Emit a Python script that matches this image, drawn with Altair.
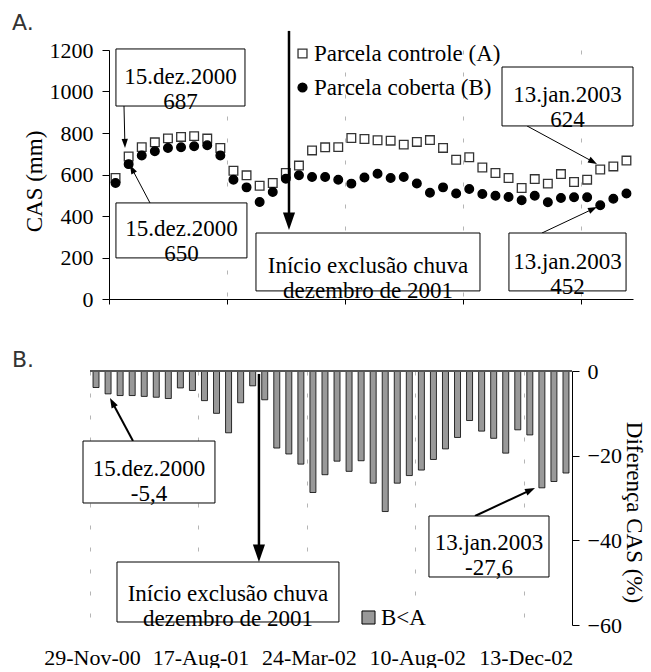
import math
import altair as alt
import pandas as pd

# ---------------- data ----------------
idx = list(range(40))
controle = [583, 687, 732, 755, 774, 781, 785, 773, 728, 618, 596, 546, 559, 607, 643,
            716, 731, 732, 776, 771, 765, 763, 744, 757, 766, 728, 671, 683, 634, 607,
            583, 535, 578, 556, 602, 564, 575, 624, 639, 667]
coberta = [559, 650, 692, 712, 728, 731, 736, 741, 692, 575, 538, 467, 516, 580, 596,
           588, 588, 575, 556, 586, 604, 583, 588, 557, 512, 538, 508, 530, 506, 498,
           492, 476, 498, 466, 487, 490, 490, 452, 483, 508]
diferenca = [-3.9, -5.4, -5.8, -5.8, -6.0, -6.2, -6.5, -4.0, -4.6, -7.0, -10.0, -14.6,
             -7.5, -3.5, -6.8, -18.2, -19.6, -22.0, -28.7, -24.5, -21.3, -23.7, -21.2,
             -26.5, -33.2, -26.5, -24.7, -23.4, -20.9, -18.4, -15.7, -11.7, -14.2, -15.9,
             -19.4, -13.9, -15.1, -27.6, -26.1, -24.1]
x_labels = ["29-Nov-00", "17-Aug-01", "24-Mar-02", "10-Aug-02", "13-Dec-02"]
x_bounds = [-0.5, 8.5, 17.5, 26.5, 35.5]
serie_a = "Parcela controle (A)"
serie_b = "Parcela coberta (B)"
serie_bar = "B<A"

SERIF = "Liberation Serif, Times New Roman, serif"
FS = 23

# ---------------- geometry ----------------
W_TOP, H_TOP = 524, 249
W_BOT, H_BOT = 482, 254
SHIFT = 19  # bottom plot starts 19 px left of the top one
sx_top, sy_top = W_TOP / 40, H_TOP / 1200
sx_bot, sy_bot = W_BOT / 40, H_BOT / 60

HEAD = "M0,-1L0.7,1L-0.7,1Z"


def heads(arrows, sx, sy, size):
    r = math.sqrt(size) / 2
    out = []
    for (x1, y1, x2, y2) in arrows:
        dxp = (x2 - x1) * sx
        dyp = -(y2 - y1) * sy
        L = math.hypot(dxp, dyp)
        ux, uy = dxp / L, dyp / L
        hx = x2 - ux * r / sx
        hy = y2 + uy * r / sy
        ang = math.degrees(math.atan2(ux, -uy)) % 360
        out.append({"x": hx, "y": hy, "ang": ang})
    return pd.DataFrame(out)


def arrows_df(arrows, sx, sy, size):
    r = math.sqrt(size) / 2
    rows = []
    for (x1, y1, x2, y2) in arrows:
        dxp = (x2 - x1) * sx
        dyp = -(y2 - y1) * sy
        L = math.hypot(dxp, dyp)
        ux, uy = dxp / L, dyp / L
        rows.append({"x1": x1, "y1": y1, "x2": x2 - ux * r / sx, "y2": y2 + uy * r / sy})
    return pd.DataFrame(rows)


# ---------------- top panel ----------------
xs_top = alt.Scale(domain=[-0.5, 39.5], nice=False, zero=False, padding=0)
ys_top = alt.Scale(domain=[0, 1200], nice=False, padding=0)

ax_top_x = alt.Axis(values=x_bounds, labels=False, tickSize=5, tickColor="black",
                    domainColor="black", grid=True, gridColor="#b5b5b5",
                    gridDash=[4, 18], title=None)
ax_top_y = alt.Axis(values=[0, 200, 400, 600, 800, 1000, 1200], format="d", title="CAS (mm)",
                    titleFont=SERIF, titleFontSize=FS, titleFontWeight="normal",
                    titleColor="black", labelFont=SERIF, labelFontSize=22,
                    labelColor="black", tickSize=7, tickColor="black",
                    domainColor="black", labelPadding=9, titlePadding=3, grid=False,
                    titleY=131)

top_df = pd.DataFrame({
    "idx": idx + idx,
    "cas": controle + coberta,
    "serie": [serie_a] * 40 + [serie_b] * 40,
})

leg_top = alt.Legend(orient="none", legendX=182, legendY=-8, title=None,
                     labelFont=SERIF, labelFontSize=FS, labelColor="black", labelLimit=0,
                     symbolSize=80, symbolStrokeWidth=1.3, rowPadding=10, labelOffset=0,
                     symbolOpacity=1)

points = alt.Chart(top_df).mark_point(filled=True, size=75, strokeWidth=1.3, opacity=1).encode(
    x=alt.X("idx:Q", scale=xs_top, axis=ax_top_x),
    y=alt.Y("cas:Q", scale=ys_top, axis=ax_top_y),
    shape=alt.Shape("serie:N", scale=alt.Scale(domain=[serie_a, serie_b],
                                               range=["square", "circle"]), legend=leg_top),
    fill=alt.Fill("serie:N", scale=alt.Scale(domain=[serie_a, serie_b],
                                             range=["white", "black"]), legend=leg_top),
    stroke=alt.Stroke("serie:N", scale=alt.Scale(domain=[serie_a, serie_b],
                                                 range=["#333333", "black"]), legend=leg_top),
)

boxes_top = pd.DataFrame({
    "x1": [0.03, 0.03, 10.72, 29.5, 30.03],
    "x2": [9.88, 10.03, 27.82, 39.5, 38.97],
    "y1": [1205, 463, 318, 1118, 318],
    "y2": [930, 198, 39, 834, 39],
})
texts_top = pd.DataFrame({
    "x": [4.96, 5.03, 19.27, 34.5, 34.5],
    "y": [1070, 335, 159, 985, 176],
    "t": ["15.dez.2000\n687", "15.dez.2000\n650", "Início exclusão chuva\ndezembro de 2001",
          "13.jan.2003\n624", "13.jan.2003\n452"],
})
thin_top = [(0.645, 930, 0.72, 728), (2.63, 463, 1.10, 646),
            (31.41, 834, 36.75, 651), (32.55, 318, 36.75, 443)]
thick_top = [(13.24, 1292, 13.24, 333)]


def ann_layers(boxes, texts, thin, thick, xs, ys, axx, axy, sx, sy, thin_w, thin_size, thick_size):
    ax = dict(scale=xs, axis=axx)
    ay = dict(scale=ys, axis=axy)
    rect = alt.Chart(boxes).mark_rect(fill="white", stroke="black", strokeWidth=1).encode(
        x=alt.X("x1:Q", **ax), x2="x2:Q", y=alt.Y("y1:Q", **ay), y2="y2:Q")
    txt = alt.Chart(texts).mark_text(font=SERIF, fontSize=FS, color="black",
                                     lineBreak="\n", lineHeight=25, baseline="middle").encode(
        x=alt.X("x:Q", **ax), y=alt.Y("y:Q", **ay), text="t:N")
    r1 = alt.Chart(arrows_df(thin, sx, sy, thin_size)).mark_rule(
        color="black", strokeWidth=thin_w).encode(
        x=alt.X("x1:Q", **ax), x2="x2:Q", y=alt.Y("y1:Q", **ay), y2="y2:Q")
    h1 = alt.Chart(heads(thin, sx, sy, thin_size)).mark_point(
        filled=True, color="black", size=thin_size, shape=HEAD, opacity=1).encode(
        x=alt.X("x:Q", **ax), y=alt.Y("y:Q", **ay), angle=alt.Angle("ang:Q", scale=None))
    r2 = alt.Chart(arrows_df(thick, sx, sy, thick_size)).mark_rule(
        color="black", strokeWidth=2.5).encode(
        x=alt.X("x1:Q", **ax), x2="x2:Q", y=alt.Y("y1:Q", **ay), y2="y2:Q")
    h2 = alt.Chart(heads(thick, sx, sy, thick_size)).mark_point(
        filled=True, color="black", size=thick_size, shape=HEAD, opacity=1).encode(
        x=alt.X("x:Q", **ax), y=alt.Y("y:Q", **ay), angle=alt.Angle("ang:Q", scale=None))
    return [r2, h2, r1, h1, rect, txt]


label_a = alt.Chart(alt.Data(values=[{}])).mark_text(
    font="DejaVu Sans", fontSize=22, color="#333333", align="left", baseline="alphabetic").encode(
    x=alt.value(-97), y=alt.value(-20), text=alt.value("A."))

top = alt.layer(
    points,
    *ann_layers(boxes_top, texts_top, thin_top, thick_top, xs_top, ys_top,
                ax_top_x, ax_top_y, sx_top, sy_top, 1, 81, 300),
    label_a,
).properties(width=W_TOP, height=H_TOP)

# ---------------- bottom panel ----------------
xs_bot = alt.Scale(domain=[-0.5, 39.5], nice=False, zero=False, padding=0,
                   range=[-SHIFT, W_BOT - SHIFT])
ys_bot = alt.Scale(domain=[-60, 0], nice=False, padding=0)

label_expr = "[" + ",".join("'%s'" % s for s in x_labels) + "][round((datum.value + 0.5) / 9)]"

ax_bot_x = alt.Axis(values=x_bounds, labelExpr=label_expr, domain=False, ticks=False,
                    grid=True, gridColor="#b5b5b5", gridDash=[4, 18], title=None,
                    labelFont=SERIF, labelFontSize=22, labelColor="black",
                    labelPadding=22, labelOffset=2, labelFlush=False, labelOverlap=False)
ax_bot_y = alt.Axis(orient="right", values=[0, -20, -40, -60], title="Diferença CAS (%)",
                    titleFont=SERIF, titleFontSize=FS, titleFontWeight="normal",
                    titleColor="black", labelFont=SERIF, labelFontSize=22,
                    labelColor="black", tickSize=7, tickColor="black",
                    domainColor="black", labelPadding=8, titlePadding=0, grid=False,
                    titleY=141)

bot_df = pd.DataFrame({"idx": idx, "dif": diferenca, "grupo": [serie_bar] * 40})

bars = alt.Chart(bot_df).mark_bar(size=6, stroke="black", strokeWidth=0.8, orient="vertical").encode(
    x=alt.X("idx:Q", scale=xs_bot, axis=ax_bot_x),
    y=alt.Y("dif:Q", scale=ys_bot, axis=ax_bot_y),
    y2=alt.datum(0),
    color=alt.Color("grupo:N", scale=alt.Scale(range=["#999999"]),
                    legend=alt.Legend(orient="none", legendX=248, legendY=235, title=None,
                                      labelFont=SERIF, labelFontSize=FS, labelColor="black",
                                      labelLimit=0,
                                      symbolType="square", symbolSize=170,
                                      symbolStrokeColor="black", symbolStrokeWidth=1,
                                      labelOffset=1)),
)

zero_line = alt.Chart(alt.Data(values=[{}])).mark_rule(color="#555555", strokeWidth=2).encode(
    x=alt.X(datum=-0.5, scale=xs_bot, axis=ax_bot_x), x2=alt.datum(39.5),
    y=alt.Y(datum=0, scale=ys_bot, axis=ax_bot_y))

boxes_bot = pd.DataFrame({
    "x1": [-1.08, 1.74, 27.63],
    "x2": [9.87, 20.16, 37.59],
    "y1": [-16.54, -45.12, -34.25],
    "y2": [-31.18, -59.29, -48.66],
})
texts_bot = pd.DataFrame({
    "x": [4.40, 10.95, 32.61],
    "y": [-23.15, -52.56, -40.63],
    "t": ["15.dez.2000\n-5,4", "Início exclusão chuva\ndezembro de 2001", "13.jan.2003\n-27,6"],
})
thin_bot = [(3.07, -16.54, 1.16, -6.38), (31.45, -34.25, 36.43, -27.64)]
thick_bot = [(13.52, -0.7, 13.52, -45.1)]

label_b = alt.Chart(alt.Data(values=[{}])).mark_text(
    font="DejaVu Sans", fontSize=22, color="#333333", align="left", baseline="alphabetic").encode(
    x=alt.value(-97), y=alt.value(-4), text=alt.value("B."))

bottom = alt.layer(
    bars,
    zero_line,
    *ann_layers(boxes_bot, texts_bot, thin_bot, thick_bot, xs_bot, ys_bot,
                ax_bot_x, ax_bot_y, sx_bot, sy_bot, 2, 100, 300),
    label_b,
).properties(width=W_BOT - SHIFT, height=H_BOT)

chart = alt.vconcat(top, bottom, spacing=39).resolve_scale(
    color="independent", shape="independent", fill="independent", stroke="independent"
).resolve_legend(
    color="independent", shape="independent", fill="independent", stroke="independent"
).properties(
    padding={"left": 12, "top": 12, "right": 3, "bottom": 0}
).configure_view(stroke=None)

chart.save("out.html", embed_options={"renderer": "svg", "actions": False})
